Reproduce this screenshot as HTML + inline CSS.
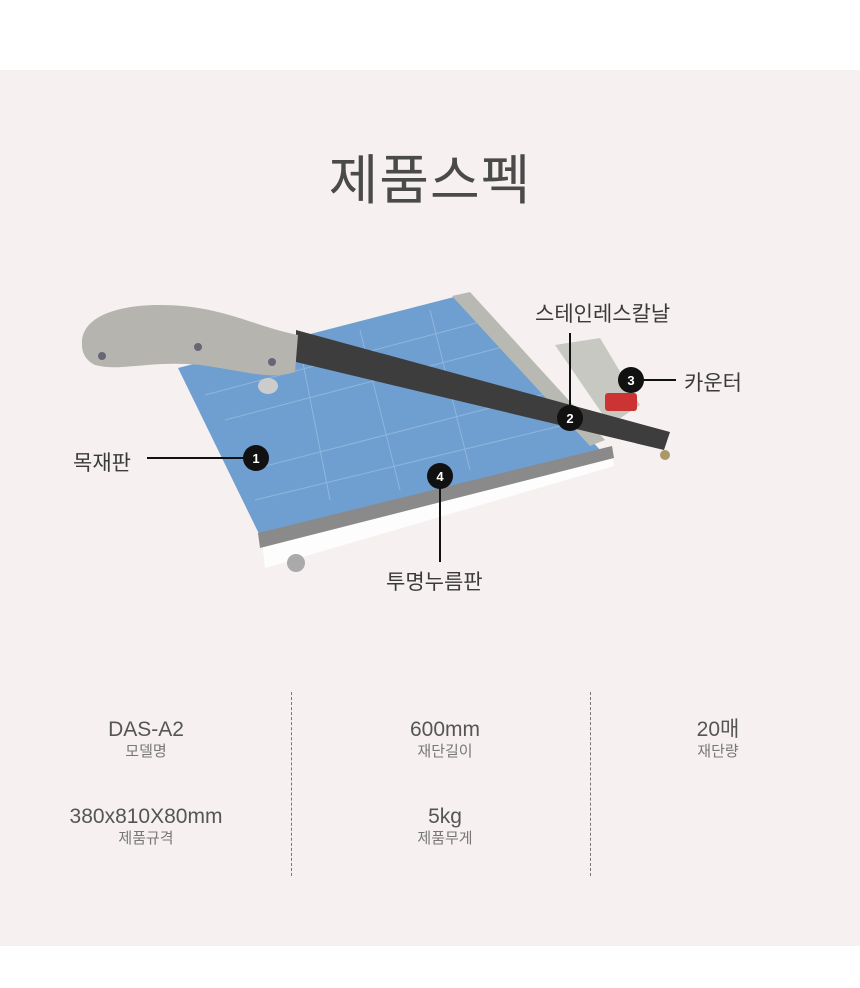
<!DOCTYPE html>
<html><head><meta charset="utf-8"><style>
body{margin:0;width:860px;height:988px;background:#fff;font-family:"Liberation Sans","Noto Sans CJK KR",sans-serif;position:relative;overflow:hidden}
#bg{position:absolute;left:0;top:70px;width:860px;height:876px;background:#f6f1f0}
.t{position:absolute;white-space:nowrap}
.title{left:0;width:860px;top:136px;text-align:center;font-size:54px;color:#4a4a4a;letter-spacing:1px}
.lbl{font-size:21px;color:#3a3a3a}
.v{position:absolute;width:290px;text-align:center;color:#555;font-size:21px;line-height:24px}
.v span{display:block;font-size:15px;color:#777;line-height:20px}
.dash{position:absolute;top:692px;height:184px;border-left:1px dashed #777}
</style></head><body>
<div id="bg"></div>
<div class="t title">제품스펙</div>
<svg style="position:absolute;left:0;top:0" width="860" height="988">
 <polygon points="262,540 612,452 614,466 265,568" fill="#fdfdfd"/>
 <polygon points="178,368 458,296 602,452 262,540" fill="#6f9fd0"/>
 <g stroke="#9cc0e4" stroke-width="1" opacity="0.7">
  <line x1="205" y1="395" x2="480" y2="322"/><line x1="225" y1="420" x2="510" y2="345"/>
  <line x1="250" y1="470" x2="560" y2="390"/><line x1="255" y1="500" x2="585" y2="420"/>
  <line x1="300" y1="348" x2="330" y2="500"/><line x1="360" y1="330" x2="400" y2="490"/>
  <line x1="430" y1="310" x2="470" y2="470"/>
 </g>
 <polygon points="258,533 612,446 614,458 260,548" fill="#8a8a8a"/>
 <polygon points="452,296 470,292 605,440 590,446" fill="#b9b9b3"/>
 <polygon points="555,345 600,338 640,405 610,425" fill="#c8c8c2"/>
 <rect x="605" y="393" width="32" height="18" fill="#c33" rx="3"/>
 <polygon points="296,330 670,432 664,450 296,362" fill="#3d3d3d"/>
 <path d="M82,345 C80,320 110,305 160,305 C220,305 250,325 298,335 L295,372 C270,380 250,372 200,365 C150,360 120,372 95,365 C85,360 82,352 82,345Z" fill="#b5b4ae"/>
 <circle cx="102" cy="356" r="4" fill="#667"/><circle cx="198" cy="347" r="4" fill="#667"/><circle cx="272" cy="362" r="4" fill="#667"/>
 <ellipse cx="268" cy="386" rx="10" ry="8" fill="#ccc"/>
 <circle cx="296" cy="563" r="9" fill="#aaa"/><circle cx="665" cy="455" r="5" fill="#a96"/>
 <g stroke="#111" stroke-width="2">
  <line x1="147" y1="458" x2="245" y2="458"/>
  <line x1="570" y1="333" x2="570" y2="410"/>
  <line x1="640" y1="380" x2="676" y2="380"/>
  <line x1="440" y1="480" x2="440" y2="562"/>
 </g>
 <g font-family="Liberation Sans" font-weight="bold" font-size="13" fill="#fff" text-anchor="middle">
  <circle cx="256" cy="458" r="13" fill="#111"/><text x="256" y="463">1</text>
  <circle cx="570" cy="418" r="13" fill="#111"/><text x="570" y="423">2</text>
  <circle cx="631" cy="380" r="13" fill="#111"/><text x="631" y="385">3</text>
  <circle cx="440" cy="476" r="13" fill="#111"/><text x="440" y="481">4</text>
 </g>
</svg>
<div class="t lbl" style="left:73px;top:447px">목재판</div>
<div class="t lbl" style="left:535px;top:298px">스테인레스칼날</div>
<div class="t lbl" style="left:684px;top:367px">카운터</div>
<div class="t lbl" style="left:386px;top:566px">투명누름판</div>
<div class="dash" style="left:291px"></div>
<div class="dash" style="left:590px"></div>
<div class="v" style="left:1px;top:718px">DAS-A2<span>모델명</span></div>
<div class="v" style="left:300px;top:718px">600mm<span>재단길이</span></div>
<div class="v" style="left:573px;top:718px">20매<span>재단량</span></div>
<div class="v" style="left:1px;top:805px">380x810X80mm<span>제품규격</span></div>
<div class="v" style="left:300px;top:805px">5kg<span>제품무게</span></div>
</body></html>
